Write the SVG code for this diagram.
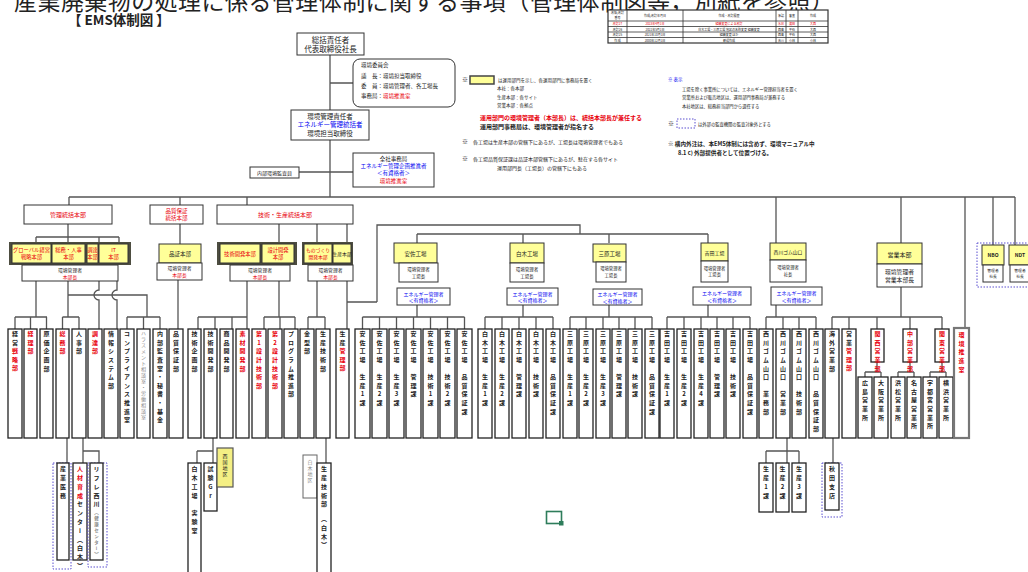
<svg xmlns="http://www.w3.org/2000/svg" width="1028" height="572" viewBox="0 0 1028 572">
<style>
.t{font-family:"Noto Sans CJK JP","Noto Sans",sans-serif;fill:#222}
.c{text-anchor:middle}
.v{writing-mode:vertical-rl;text-orientation:upright;font-size:6px;font-weight:bold;letter-spacing:2.6px}
.vl{writing-mode:vertical-rl;text-orientation:upright;font-size:6px;font-weight:bold;letter-spacing:2.8px}
.vs{writing-mode:vertical-rl;text-orientation:upright;font-size:5px;letter-spacing:1px}
.red{fill:#e8000b}
.blu{fill:#0000f0}
.gry{fill:#8a8a8a}
.ln{stroke:#555;stroke-width:1.3;fill:none}
.bx{fill:#fff;stroke:#333;stroke-width:1}
.col{fill:#fff;stroke:#222;stroke-width:1.3}
.yb{fill:#ffff99;stroke:#333;stroke-width:1}
.fr{fill:#4d4d40}
.dash{fill:none;stroke:#5b4fd0;stroke-width:1;stroke-dasharray:1.5 1.5}
.tb{fill:none;stroke:#333;stroke-width:0.8}
</style>

<text class="t" x="14" y="9.5" font-size="23" textLength="820">産業廃棄物の処理に係る管理体制に関する事項（管理体制図等，別紙を参照）</text>
<text class="t" x="68" y="25" font-size="13.5" font-weight="bold">【 EMS体制図 】</text>

<g id="revision-table">
<rect x="608" y="10" width="220" height="33" fill="#fff" stroke="#333" stroke-width="1.2"/>
<path class="tb" d="M608,21H828M608,26.5H828M608,32H828M608,37.5H828M627,10V43M683,10V43M776,10V43M786,10V43M798,10V43"/>
<g class="t c" font-size="3">
<text x="617.5" y="14.2">改版/改訂</text><text x="617.5" y="19.4">番号</text>
<text x="655" y="16.8">作成/改訂年月日</text>
<text x="729" y="16.8">作成・改訂履歴</text>
<text x="781" y="16.8">承認</text><text x="792" y="16.8">審査</text><text x="813" y="16.8">作成</text>
<g class="red"><text x="617.5" y="25">改訂27</text><text x="655" y="25">2023年4月1日</text><text x="729" y="25">組織変更による改訂</text><text x="781" y="25">水谷</text><text x="792" y="25">濱田</text><text x="813" y="25">大西</text></g>
<text x="617.5" y="30.5">改訂26</text><text x="655" y="30.5">2022年5月1日</text><text x="729" y="30.5">白木工場・三原工場 地区の名称変更 組織変更</text><text x="781" y="30.5">西島</text><text x="792" y="30.5">平石</text><text x="813" y="30.5">大西</text>
<text x="617.5" y="36">改訂25</text><text x="655" y="36">2021年10月1日</text><text x="729" y="36">組織変更 ほか</text><text x="781" y="36">西島</text><text x="792" y="36">平石</text><text x="813" y="36">大西</text>
<text x="617.5" y="41.5">作 成</text><text x="655" y="41.5">2000年12月1日</text><text x="729" y="41.5">新規作成</text><text x="781" y="41.5">吉川</text><text x="792" y="41.5">小林</text><text x="813" y="41.5">小林</text>
</g>
</g>

<g id="legend">
<g class="t" font-size="4.5">
<text x="462" y="82" font-size="6">※</text>
<rect x="470" y="76" width="24" height="8" fill="#ffff99" stroke="#444" stroke-width="1.5"/>
<text x="498" y="82">は運用部門を示し、各運用部門に事務局を置く</text>
<text x="497" y="90">本社：各本部</text>
<text x="497" y="99">生産本部：各サイト</text>
<text x="497" y="107">営業本部：各拠点</text>
<text x="480" y="120" font-size="6" font-weight="bold" class="red">運用部門の環境管理者（本部長）は、統括本部長が兼任する</text>
<text x="480" y="129" font-size="6" font-weight="bold">運用部門事務局は、環境管理者が指名する</text>
<text x="462" y="144" font-size="6">※</text><text x="473" y="144" font-size="5">各工場は生産本部の管轄下にあるが、工場長は環境管理者でもある</text>
<text x="462" y="161" font-size="6">※</text><text x="473" y="161" font-size="5">各工場品質保証課は品証本部管轄下にあるが、駐在する各サイト</text>
<text x="497" y="170" font-size="5">運用部門長（工場長）の管轄下にもある</text>
<text x="668" y="81" class="blu">※ 表示</text>
<text x="682" y="91" font-size="4.3">工場を除く事業所については、エネルギー管理担当者を置く</text>
<text x="682" y="99" font-size="4.3">営業所および販売地区は、運用部門事務局が兼務する</text>
<text x="682" y="108" font-size="4.3">本社地区は、総務担当部門から選任する</text>
<text x="668" y="126" font-size="6">※</text>
<rect x="677" y="119" width="18" height="9" class="dash"/>
<text x="698" y="126" font-size="4.3">は外部の監査機関の監査対象外とする</text>
<text x="668" y="146" font-size="5.6" font-weight="bold">※ 構内外注は、本EMS体制には含めず、環境マニュアル中</text>
<text x="678" y="155" font-size="5.6" font-weight="bold">8.1 c) 外部提供者として位置づける。</text>
</g>
</g>

<g id="connectors">
<path class="ln" d="M330,55V197M299,172H353M330,83H353M69,197H1015"/>
<path class="ln" d="M69,197V205M180,197V205M247,197V205M776,197V243M901,197V243M965,197V328M993,197V245M1015,197V245"/>
<path class="ln" d="M68,224V237M36,237H119M36,237V243M68,237V243M99,237V243M119,237V243"/>
<path class="ln" d="M180,224V244M279,224V243M317,224V243M347,224V243"/>
<path class="ln" d="M377,302V225H580V234M417,234H708M417,234V243M523,234V243M609,234V243M708,234V243"/>
<path class="ln" d="M347,281V329M347,302H377"/>
<path class="ln" d="M36,281V317M15,317H47M15,317V329M30.5,317V329M46.5,317V329"/>
<path class="ln" d="M68,281V317M62.5,317H79M62.5,317V329M79,317V329M68,295H147V317M127,317H160M127,317V329M143.5,317V329M160,317V329"/>
<path class="ln" d="M99,281V290A5,5 0 0,0 99,300V329M117,281V290A5,5 0 0,0 117,300V329"/>
<path class="ln" d="M178,280V329"/>
<path class="ln" d="M247,281V317M198,317H247M198,317V329M215,317V329M232,317V329M247,317V329"/>
<path class="ln" d="M279,281V317M264,317H295M264,317V329M280,317V329M295,317V329"/>
<path class="ln" d="M317,281V317M308,317H325M308,317V329M325,317V329"/>
<path class="ln" d="M417,305V317M362.5,317H464.5M362.5,317V329M379.5,317V329M396.5,317V329M413.5,317V329M430.5,317V329M447.5,317V329M464.5,317V329"/>
<path class="ln" d="M523,305V317M485,317H553M485,317V329M502,317V329M519,317V329M536,317V329M553,317V329"/>
<path class="ln" d="M609,305V317M570,317H652M570,317V329M586,317V329M603,317V329M619,317V329M635,317V329M652,317V329"/>
<path class="ln" d="M708,305V317M667,317H750M667,317V329M684,317V329M701,317V329M717,317V329M733,317V329M750,317V329"/>
<path class="ln" d="M776,305V317M766,317H816M766,317V329M783,317V329M799,317V329M816,317V329"/>
<path class="ln" d="M901,287V317M832,317H942M832,317V329M849,317V329M877,317V329M910,317V329M942,317V329"/>
<path class="ln" d="M877,362V372M865,372H881M865,372V377M881,372V377M910,362V372M898,372H914M898,372V377M914,372V377M942,362V372M930,372H946M930,372V377M946,372V377"/>
<path class="ln" d="M67,438V463M83,438V463M83,451H99V463"/>
<path class="ln" d="M213,438V463M197,451H213M197,451V463"/>
<path class="ln" d="M326,438V463"/>
<path class="ln" d="M787,438V463M766,451H799M766,451V463M799,451V463"/>
<path class="ln" d="M833,438V463"/>
</g>

<g id="n-president"><rect class="bx" x="297" y="33" width="67" height="22"/><text class="t c" x="330.5" y="43" font-size="7.5">総括責任者</text><text class="t c" x="330.5" y="52" font-size="7.5">代表取締役社長</text></g>
<g id="n-committee"><rect class="bx" x="353" y="59" width="102" height="48" rx="7"/>
<g class="t" font-size="5.5"><text x="361" y="67">環境委員会</text><text x="361" y="78">議　長：環境担当取締役</text><text x="361" y="88">委　員：環境管理者、各工場長</text><text x="361" y="98">事務局：<tspan class="red">環境推進室</tspan></text></g></g>
<g id="n-envmgr"><rect class="bx" x="291" y="110" width="78" height="30"/><g class="t c" font-size="6.5"><text x="330" y="119">環境管理責任者</text><text x="330" y="127" class="blu">エネルギー管理統括者</text><text x="330" y="136">環境担当取締役</text></g></g>
<g id="n-auditor"><rect class="bx" x="250" y="167" width="49" height="11"/><text class="t c" x="274.5" y="174.5" font-size="5">内部環境監査員</text></g>
<g id="n-secretariat"><rect class="bx" x="353" y="153" width="81" height="34"/><g class="t c" font-size="5.5"><text x="393.5" y="161">全社事務局</text><text x="393.5" y="168" class="blu">エネルギー管理企画推進者</text><text x="393.5" y="175" class="blu">＜有資格者＞</text><text x="393.5" y="183" class="red">環境推進室</text></g></g>

<g id="n-kanri-toukatsu"><rect class="bx" x="24" y="205" width="88" height="19"/><text class="t c red" x="68" y="217" font-size="6">管理統括本部</text></g>
<g id="n-hinsho-toukatsu"><rect class="bx" x="150" y="205" width="53" height="19"/><text class="t c red" x="176.5" y="213" font-size="5.5">品質保証</text><text class="t c red" x="176.5" y="220" font-size="5.5">統括本部</text></g>
<g id="n-gijutsu-toukatsu"><rect class="bx" x="217" y="205" width="136" height="19"/><text class="t c red" x="285" y="217" font-size="6">技術・生産統括本部</text></g>

<g id="n-kanri-group">
<rect class="fr" x="9" y="242" width="122" height="23"/>
<rect class="yb" x="12" y="244" width="39" height="19"/><rect class="yb" x="52" y="244" width="33" height="19"/><rect class="yb" x="87" y="244" width="11" height="19"/><rect class="yb" x="99" y="244" width="29" height="19"/>
<g class="t c red" font-size="5.3"><text x="31.5" y="252">グローバル経営</text><text x="31.5" y="259">戦略本部</text><text x="68.5" y="252">総務・人事</text><text x="68.5" y="259">本部</text><text x="92.5" y="252">調達</text><text x="92.5" y="259">本部</text><text x="113.5" y="252">IT</text><text x="113.5" y="259">本部</text></g>
<rect class="bx" x="22" y="265" width="96" height="16"/><text class="t c" x="70" y="272" font-size="4.8">環境管理者</text><text class="t c red" x="70" y="278.5" font-size="4.8">本部長</text>
</g>
<g id="n-hinsho"><rect class="yb" x="159" y="244" width="42" height="19"/><text class="t c" x="180" y="256" font-size="5.5">品証本部</text>
<rect class="bx" x="157" y="263" width="45" height="17"/><text class="t c" x="179.5" y="270" font-size="4.8">環境管理者</text><text class="t c red" x="179.5" y="277" font-size="4.8">本部長</text></g>
<g id="n-gikai-group"><rect class="fr" x="217" y="242" width="80" height="23"/>
<rect class="yb" x="220" y="244" width="40" height="19"/><rect class="yb" x="262" y="244" width="32" height="19"/>
<text class="t c red" x="240" y="256" font-size="5.3">技術開発本部</text><text class="t c red" x="278" y="252" font-size="5.3">設計開発</text><text class="t c red" x="278" y="259" font-size="5.3">本部</text>
<rect class="bx" x="230" y="265" width="60" height="16"/><text class="t c" x="260" y="272" font-size="4.8">環境管理者</text><text class="t c red" x="260" y="278.5" font-size="4.8">本部長</text></g>
<g id="n-monozukuri-group"><rect class="fr" x="302" y="242" width="51" height="23"/>
<rect class="yb" x="304" y="244" width="28" height="19"/><rect class="yb" x="333" y="244" width="18" height="19"/>
<text class="t c red" x="318" y="252" font-size="4.8">ものづくり</text><text class="t c red" x="318" y="259" font-size="4.8">開発本部</text><text class="t c" x="342" y="256" font-size="4.8">生産本部</text>
<rect class="bx" x="308" y="265" width="45" height="16"/><text class="t c" x="330.5" y="272" font-size="4.8">環境管理者</text><text class="t c red" x="330.5" y="278.5" font-size="4.8">本部長</text></g>

<g id="n-asa"><rect class="yb" x="394" y="243" width="43" height="20"/><text class="t c" x="415.5" y="255.5" font-size="5.5">安佐工場</text>
<rect class="bx" x="399" y="263" width="39" height="19"/><text class="t c" x="418.5" y="271" font-size="4.5">環境管理者</text><text class="t c" x="418.5" y="277.5" font-size="4.5">工場長</text>
<rect class="bx" x="397" y="288" width="53" height="17"/><text class="t c blu" x="423.5" y="295.5" font-size="5">エネルギー管理者</text><text class="t c blu" x="423.5" y="302" font-size="5">＜有資格者＞</text></g>
<g id="n-shiraki"><rect class="yb" x="510" y="243" width="34" height="20"/><text class="t c" x="527" y="255.5" font-size="5.5">白木工場</text>
<rect class="bx" x="510" y="263" width="34" height="19"/><text class="t c" x="527" y="271" font-size="4.5">環境管理者</text><text class="t c" x="527" y="277.5" font-size="4.5">工場長</text>
<rect class="bx" x="507" y="288" width="51" height="17"/><text class="t c blu" x="532.5" y="295.5" font-size="5">エネルギー管理者</text><text class="t c blu" x="532.5" y="302" font-size="5">＜有資格者＞</text></g>
<g id="n-mihara"><rect class="yb" x="593" y="244" width="33" height="18"/><text class="t c" x="609.5" y="255.5" font-size="5.5">三原工場</text>
<rect class="bx" x="596" y="262" width="30" height="20"/><text class="t c" x="611" y="270" font-size="4.3">環境管理者</text><text class="t c" x="611" y="276.5" font-size="4.3">工場長</text>
<rect class="bx" x="593" y="289" width="49" height="16"/><text class="t c blu" x="617.5" y="296" font-size="5">エネルギー管理者</text><text class="t c blu" x="617.5" y="302.5" font-size="5">＜有資格者＞</text></g>
<g id="n-yoshida"><rect class="yb" x="701" y="243" width="27" height="18"/><text class="t c" x="714.5" y="254.5" font-size="5">吉田工場</text>
<rect class="bx" x="701" y="261" width="27" height="21"/><text class="t c" x="714.5" y="269.5" font-size="4.3">環境管理者</text><text class="t c" x="714.5" y="276" font-size="4.3">工場長</text>
<rect class="bx" x="693" y="287" width="58" height="18"/><text class="t c blu" x="722" y="295" font-size="5">エネルギー管理者</text><text class="t c blu" x="722" y="301.5" font-size="5">＜有資格者＞</text></g>
<g id="n-nishikawa"><rect class="yb" x="770" y="243" width="36" height="17"/><text class="t c" x="788" y="254" font-size="4.8">西川ゴム山口</text>
<rect class="bx" x="770" y="260" width="36" height="22"/><text class="t c" x="788" y="269" font-size="4.3">環境管理者</text><text class="t c" x="788" y="275.5" font-size="4.3">社長</text>
<rect class="bx" x="771" y="287" width="51" height="18"/><text class="t c blu" x="796.5" y="295" font-size="5">エネルギー管理者</text><text class="t c blu" x="796.5" y="301.5" font-size="5">＜有資格者＞</text></g>
<g id="n-eigyo"><rect class="yb" x="877" y="243" width="45" height="21"/><text class="t c" x="899.5" y="256.5" font-size="6">営業本部</text>
<rect class="bx" x="877" y="264" width="45" height="23"/><text class="t c" x="899.5" y="274" font-size="5.8">環境管理者</text><text class="t c" x="899.5" y="282" font-size="5.8">営業本部長</text></g>
<g id="n-nbo-ndt"><rect class="dash" x="977" y="243" width="60" height="44"/>
<rect class="yb" x="982" y="245" width="22" height="20"/><text class="t c" x="993" y="257" font-size="5" font-weight="bold">NBO</text>
<rect class="bx" x="983" y="265" width="20" height="17"/><text class="t c" x="993" y="272" font-size="3.8">管理者</text><text class="t c" x="993" y="278" font-size="3.8">社長</text>
<rect class="yb" x="1009" y="245" width="22" height="20"/><text class="t c" x="1020" y="257" font-size="5" font-weight="bold">NDT</text>
<rect class="bx" x="1010" y="265" width="20" height="17"/><text class="t c" x="1020" y="272" font-size="3.8">管理者</text><text class="t c" x="1020" y="278" font-size="3.8">社長</text></g>

<g id="columns">
<g id="c1"><rect class="col" x="8" y="329" width="14" height="109"/><text class="t v" x="15" y="331">経営<tspan class="red">戦略部</tspan></text></g>
<g id="c2"><rect class="col" x="24" y="329" width="13" height="109"/><text class="t v red" x="30.5" y="331">経理部</text></g>
<g id="c3"><rect class="col" x="40" y="329" width="13" height="109"/><text class="t v" x="46.5" y="331">原価企画部</text></g>
<g id="c4"><rect class="col" x="56" y="329" width="13" height="109"/><text class="t v red" x="62.5" y="331">総務部</text></g>
<g id="c5"><rect class="col" x="72" y="329" width="14" height="109"/><text class="t v" x="79" y="331">人事部</text></g>
<g id="c6"><rect class="col" x="88" y="329" width="14" height="109"/><text class="t v red" x="95" y="331">調達部</text></g>
<g id="c7"><rect class="col" x="104" y="329" width="14" height="109"/><text class="t v" x="111" y="331">情報システム部</text></g>
<g id="c8"><rect class="col" x="120" y="329" width="14" height="109"/><text class="t v" x="127" y="331">コンプライアンス推進室</text></g>
<g id="c9"><rect class="col" x="137" y="329" width="13" height="109" stroke="#999"/><text class="t vs gry" x="143.5" y="331">ハラスメント相談室・労働相談室</text></g>
<g id="c10"><rect class="col" x="153" y="329" width="14" height="109"/><text class="t v" x="160" y="331">内部監査室・秘書・基金</text></g>
<g id="c11"><rect class="col" x="169" y="329" width="14" height="109"/><text class="t v" x="176" y="331">品質保証部</text></g>
<g id="c12"><rect class="col" x="188" y="329" width="13" height="109"/><text class="t v" x="194.5" y="331">技術企画部</text></g>
<g id="c13"><rect class="col" x="204" y="329" width="13" height="109"/><text class="t v" x="210.5" y="331">技術開発部</text></g>
<g id="c14"><rect class="col" x="220" y="329" width="13" height="109"/><text class="t v" x="226.5" y="331">商品開発部</text></g>
<g id="c15"><rect class="col" x="236" y="329" width="13" height="109"/><text class="t v red" x="242.5" y="331">素材開発部</text></g>
<g id="c16"><rect class="col" x="252" y="329" width="14" height="109"/><text class="t v red" x="259" y="331">第1設計技術部</text></g>
<g id="c17"><rect class="col" x="268" y="329" width="14" height="109"/><text class="t v red" x="275" y="331">第2設計技術部</text></g>
<g id="c18"><rect class="col" x="284" y="329" width="14" height="109"/><text class="t v" x="291" y="331">プログラム推進部</text></g>
<g id="c19"><rect class="col" x="300" y="329" width="14" height="109"/><text class="t v" x="307" y="331">金型部</text></g>
<g id="c20"><rect class="col" x="316" y="329" width="14" height="109"/><text class="t v" x="323" y="331">生産技術部</text></g>
<g id="c21"><rect class="col" x="336" y="329" width="13" height="109"/><text class="t v" x="342.5" y="331">生産<tspan class="red">管理部</tspan></text></g>
<g id="c-asa1"><rect class="col" x="355" y="329" width="15" height="109"/><text class="t v" x="362.5" y="331">安佐工場　生産1課</text></g>
<g id="c-asa2"><rect class="col" x="372" y="329" width="15" height="109"/><text class="t v" x="379.5" y="331">安佐工場　生産2課</text></g>
<g id="c-asa3"><rect class="col" x="389" y="329" width="15" height="109"/><text class="t v" x="396.5" y="331">安佐工場　生産3課</text></g>
<g id="c-asa4"><rect class="col" x="406" y="329" width="15" height="109"/><text class="t v" x="413.5" y="331">安佐工場　管理課</text></g>
<g id="c-asa5"><rect class="col" x="423" y="329" width="15" height="109"/><text class="t v" x="430.5" y="331">安佐工場　技術1課</text></g>
<g id="c-asa6"><rect class="col" x="440" y="329" width="15" height="109"/><text class="t v" x="447.5" y="331">安佐工場　技術2課</text></g>
<g id="c-asa7"><rect class="col" x="457" y="329" width="15" height="109"/><text class="t v" x="464.5" y="331">安佐工場　品質保証課</text></g>
<g id="c-shi1"><rect class="col" x="478" y="329" width="14" height="109"/><text class="t v" x="485" y="331">白木工場　生産1課</text></g>
<g id="c-shi2"><rect class="col" x="495" y="329" width="14" height="109"/><text class="t v" x="502" y="331">白木工場　生産2課</text></g>
<g id="c-shi3"><rect class="col" x="512" y="329" width="14" height="109"/><text class="t v" x="519" y="331">白木工場　管理課</text></g>
<g id="c-shi4"><rect class="col" x="529" y="329" width="14" height="109"/><text class="t v" x="536" y="331">白木工場　技術課</text></g>
<g id="c-shi5"><rect class="col" x="546" y="329" width="14" height="109"/><text class="t v" x="553" y="331">白木工場　品質保証課</text></g>
<g id="c-mih1"><rect class="col" x="563" y="329" width="14" height="109"/><text class="t v" x="570" y="331">三原工場　生産1課</text></g>
<g id="c-mih2"><rect class="col" x="579" y="329" width="14" height="109"/><text class="t v" x="586" y="331">三原工場　生産2課</text></g>
<g id="c-mih3"><rect class="col" x="596" y="329" width="14" height="109"/><text class="t v" x="603" y="331">三原工場　生産3課</text></g>
<g id="c-mih4"><rect class="col" x="612" y="329" width="14" height="109"/><text class="t v" x="619" y="331">三原工場　管理課</text></g>
<g id="c-mih5"><rect class="col" x="628" y="329" width="14" height="109"/><text class="t v" x="635" y="331">三原工場　技術課</text></g>
<g id="c-mih6"><rect class="col" x="645" y="329" width="14" height="109"/><text class="t v" x="652" y="331">三原工場　品質保証課</text></g>
<g id="c-yos1"><rect class="col" x="660" y="329" width="14" height="109"/><text class="t v" x="667" y="331">吉田工場　生産1課</text></g>
<g id="c-yos2"><rect class="col" x="677" y="329" width="14" height="109"/><text class="t v" x="684" y="331">吉田工場　生産2課</text></g>
<g id="c-yos3"><rect class="col" x="694" y="329" width="14" height="109"/><text class="t v" x="701" y="331">吉田工場　生産4課</text></g>
<g id="c-yos4"><rect class="col" x="710" y="329" width="14" height="109"/><text class="t v" x="717" y="331">吉田工場　管理課</text></g>
<g id="c-yos5"><rect class="col" x="726" y="329" width="14" height="109"/><text class="t v" x="733" y="331">吉田工場　技術課</text></g>
<g id="c-yos6"><rect class="col" x="743" y="329" width="14" height="109"/><text class="t v" x="750" y="331">吉田工場　品質保証課</text></g>
<g id="c-nis1"><rect class="col" x="759" y="329" width="14" height="109"/><text class="t v" x="766" y="331">西川ゴム山口　業務部</text></g>
<g id="c-nis2"><rect class="col" x="776" y="329" width="14" height="109"/><text class="t v" x="783" y="331">西川ゴム山口　営業部</text></g>
<g id="c-nis3"><rect class="col" x="792" y="329" width="14" height="109"/><text class="t v" x="799" y="331">西川ゴム山口　技術部</text></g>
<g id="c-nis4"><rect class="col" x="809" y="329" width="14" height="109"/><text class="t v" x="816" y="331">西川ゴム山口　品質保証部</text></g>
<g id="c-kaigai"><rect class="col" x="825" y="329" width="14" height="109"/><text class="t v" x="832" y="331">海外営業部</text></g>
<g id="c-eikan"><rect class="col" x="842" y="329" width="14" height="109"/><text class="t v" x="849" y="331">営業<tspan class="red">管理部</tspan></text></g>
<g id="c-kansai"><rect class="col" x="871" y="329" width="13" height="33"/><text class="t v red" x="877.5" y="331" font-size="5" letter-spacing="1.2">関西営業部</text></g>
<g id="c-chubu"><rect class="col" x="903" y="329" width="14" height="33"/><text class="t v red" x="910" y="331" font-size="5" letter-spacing="1.2">中部営業部</text></g>
<g id="c-kanto"><rect class="col" x="935" y="329" width="14" height="33"/><text class="t v red" x="942" y="331" font-size="5" letter-spacing="1.2">関東営業部</text></g>
<g id="c-hiroshima"><rect class="col" x="858" y="377" width="14" height="61"/><text class="t v" x="865" y="380" font-size="5.5" letter-spacing="2">広島営業所</text></g>
<g id="c-osaka"><rect class="col" x="874" y="377" width="14" height="61" fill="#ffff99"/><text class="t v" x="881" y="380" font-size="5.5" letter-spacing="2">大阪営業所</text></g>
<g id="c-hamamatsu"><rect class="col" x="891" y="377" width="14" height="61" fill="#ffff99"/><text class="t v" x="898" y="380" font-size="5.5" letter-spacing="2">浜松営業所</text></g>
<g id="c-nagoya"><rect class="col" x="907" y="377" width="14" height="61" fill="#ffff99"/><text class="t v" x="914" y="380" font-size="5.5" letter-spacing="2">名古屋営業所</text></g>
<g id="c-utsunomiya"><rect class="col" x="923" y="377" width="14" height="61" fill="#ffff99"/><text class="t v" x="930" y="380" font-size="5.5" letter-spacing="2">宇都宮営業所</text></g>
<g id="c-yokohama"><rect class="col" x="939" y="377" width="14" height="61" fill="#ffff99"/><text class="t v" x="946" y="380" font-size="5.5" letter-spacing="2">横浜営業所</text></g>
<g id="c-kankyo"><rect x="954" y="328" width="15" height="110" fill="#fff" stroke="#777" stroke-width="2.2"/><text class="t v red" x="961.5" y="332">環境推進室</text></g>
</g>

<g id="lower">
<g id="l-sangyo"><rect class="dash" x="53" y="463" width="18" height="106"/><rect class="col" x="57" y="463" width="12" height="97"/><text class="t vl" x="63" y="466" letter-spacing="3.5">産業医務</text></g>
<g id="l-jinzai"><rect class="col" x="73" y="463" width="14" height="97"/><text class="t vl" x="80" y="466"><tspan class="red">人材育成</tspan>センター（白木）</text></g>
<g id="l-refre"><rect class="dash" x="88" y="463" width="19" height="104"/><rect class="col" x="90" y="463" width="13" height="97"/><text class="t vl" x="96.5" y="466">リフレ西川<tspan class="gry" font-size="4.5" letter-spacing="1.5">（健康センター）</tspan></text></g>
<g id="l-jikken"><rect class="col" x="188" y="463" width="13" height="115"/><text class="t vl" x="194.5" y="466">白木工場　実験室</text></g>
<g id="l-shiken"><rect class="col" x="204" y="463" width="13" height="48"/><text class="t vl" x="210.5" y="466">試験Gr</text></g>
<g id="l-chiku"><rect x="217" y="448" width="16" height="39" fill="#f4ef84" stroke="#555" stroke-width="1.2"/><text class="t vs" x="225" y="454">西国地区</text></g>
<g id="l-shiraki-chiku"><rect x="303" y="455" width="14" height="43" fill="#fff" stroke="#666" stroke-width="1"/><text class="t vs gry" x="310" y="460">白木地区</text></g>
<g id="l-seigi"><rect class="col" x="317" y="463" width="14" height="115"/><text class="t vl" x="324" y="466">生産技術部　（白木）</text></g>
<g id="l-n1"><rect class="col" x="759" y="463" width="14" height="49"/><text class="t vl" x="766" y="466">生産1課</text></g>
<g id="l-n2"><rect class="col" x="776" y="463" width="13" height="49"/><text class="t vl" x="782.5" y="466">生産2課</text></g>
<g id="l-n3"><rect class="col" x="792" y="463" width="14" height="49"/><text class="t vl" x="799" y="466">生産3課</text></g>
<g id="l-akita"><rect class="dash" x="822" y="463" width="20" height="54"/><rect class="col" x="825" y="463" width="14" height="47"/><text class="t vl" x="832" y="466">秋田支店</text></g>
</g>

<g id="selection-mark"><rect x="546.5" y="511.5" width="15" height="12" fill="none" stroke="#2e7d5b" stroke-width="1.6"/><rect x="559" y="521" width="4.5" height="4.5" fill="#2e7d5b"/></g>
</svg>
